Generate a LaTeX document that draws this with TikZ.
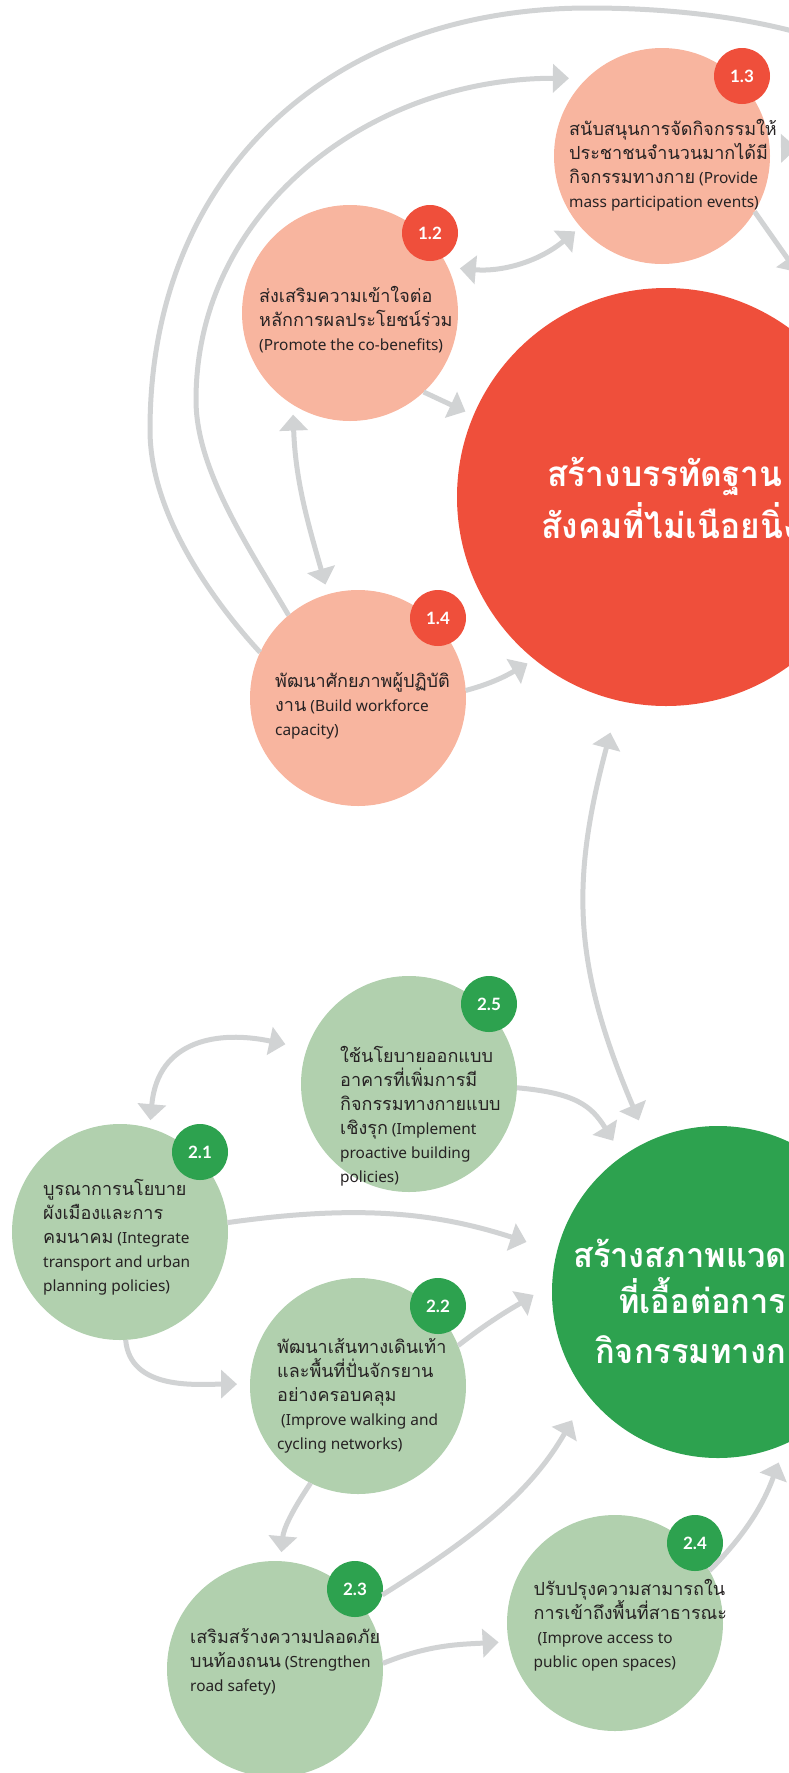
\documentclass[tikz,border=0pt]{standalone}
\usepackage{fontspec}
\setmainfont{Noto Sans}
\newfontfamily\thai[Script=Thai,Scale=1.17]{Loma}
\newfontfamily\thaittl[Script=Thai,FakeStretch=0.96]{Loma}
\newfontfamily\numfont{Lato}
\usetikzlibrary{calc,arrows.meta}

\definecolor{redmain}{HTML}{EF4F3B}
\definecolor{redlite}{HTML}{F8B59F}
\definecolor{grnmain}{HTML}{2DA24F}
\definecolor{grnlite}{HTML}{B1D0AE}
\definecolor{arrgray}{HTML}{D1D3D4}
\definecolor{txtdark}{HTML}{262223}

\tikzset{
	goal/.style={circle, fill=#1, minimum size=216pt, inner sep=0pt, outer sep=0pt},
	big/.style={circle, fill=#1, inner sep=0pt, outer sep=0pt},
	badge/.style={circle, fill=#1, minimum size=56pt, inner sep=0pt, outer sep=0pt, text=white, font=\numfont\bfseries\fontsize{17}{17}\selectfont},
	lbl/.style={anchor=base west, align=left, inner sep=0pt, text=txtdark, font=\fontsize{15.4}{24}\selectfont},
	ttl/.style={anchor=base west, inner sep=0pt, text=white, font=\thaittl\bfseries\fontsize{#1}{#1}\selectfont},
	arrline/.style={draw=arrgray, line width=5pt},
	arr/.style={arrline, ->},
	arrdbl/.style={arrline, <->},
}

\begin{document}
\begin{tikzpicture}[x=1pt, y=-1pt, >={Triangle[length=16pt,width=28pt]}]
	\useasboundingbox (0,0) rectangle (789,1773);
	\clip (0,0) rectangle (789,1773);
	
	%%%%% GOAL 1 %%%%%
	
	\node[big=redmain, minimum size=418pt] (red) at (666,497) {};
	\node[ttl=35] (redt1) at (547,486) {สร้างบรรทัดฐาน};
	\node[ttl=35] (redt2) at (541,538) {สังคมที่ไม่เนือยนิ่ง};
	
	\node[goal=redlite] (c13) at (662,156) {};
	\node[badge=redmain] (b13) at ($(c13)+(80,-80)$) {1.3};
	\node[lbl] (t13) at (569,207) {{\thai สนับสนุนการจัดกิจกรรมให้}\\{\thai ประชาชนจำนวนมากได้มี}\\{\thai กิจกรรมทางกาย} (Provide\\mass participation events)};
	
	\node[goal=redlite] (c12) at (350,313) {};
	\node[badge=redmain] (b12) at ($(c12)+(80,-80)$) {1.2};
	\node[lbl] (t12) at (259,350) {{\thai ส่งเสริมความเข้าใจต่อ}\\{\thai หลักการผลประโยชน์ร่วม}\\(Promote the co-benefits)};
	
	\node[goal=redlite] (c14) at (358,698) {};
	\node[badge=redmain] (b14) at ($(c14)+(80,-80)$) {1.4};
	\node[lbl] (t14) at (275,735) {{\thai พัฒนาศักยภาพผู้ปฏิบัติ}\\{\thai งาน} (Build workforce\\capacity)};
	
	\coordinate (ob) at (850,50);
	\coordinate (g13) at (797,272);
	\coordinate (h13) at (797,148);
	
	\draw[arrline] (c14.155) .. controls (222,611) and (150,520) .. (150,430) .. controls (150,177) and (326,8) .. (589,8) .. controls (700,8) and (790,25) .. (ob);
	\draw[arr, shorten >=18pt] (c14.130) .. controls (249,548) and (196,470) .. (196,400) .. controls (196,210) and (370,78) .. (c13.134);
	\draw[arrdbl, shorten <=12pt, shorten >=7pt] (c12.25) to[out=-5,in=220] (c13.221.5);
	\draw[arr, shorten >=9pt] (c12.-47.6) -- (red.157);
	\draw[arrdbl, shorten <=10pt, shorten >=10pt] (c12.238) to[out=-88,in=106] (c14.106);
	\draw[arr, shorten >=8pt] (c14.4) to[out=15,in=210] (red.231);
	\draw[arr] (c13.-31) -- (g13);
	\draw[arr, shorten <=12pt] (c13.4) -- (h13);
	
	%%%%% GOAL 2 %%%%%
	
	\node[big=grnmain, minimum size=332pt] (green) at (718,1292) {};
	\node[ttl=34] (grnt1) at (573,1267) {สร้างสภาพแวด};
	\node[ttl=34] (grnt2) at (618,1313) {ที่เอื้อต่อการ};
	\node[ttl=34] (grnt3) at (595,1363) {กิจกรรมทางก};
	
	\node[goal=grnlite] (c25) at (409,1084) {};
	\node[badge=grnmain] (b25) at ($(c25)+(80,-80)$) {2.5};
	\node[lbl] (t25) at (340,1182) {{\thai ใช้นโยบายออกแบบ}\\{\thai อาคารที่เพิ่มการมี}\\{\thai กิจกรรมทางกายแบบ}\\{\thai เชิงรุก} (Implement\\proactive building\\policies)};
	
	\node[goal=grnlite] (c21) at (120,1232) {};
	\node[badge=grnmain] (b21) at ($(c21)+(80,-80)$) {2.1};
	\node[lbl] (t21) at (43,1291) {{\thai บูรณาการนโยบาย}\\{\thai ผังเมืองและการ}\\{\thai คมนาคม} (Integrate\\transport and urban\\planning policies)};
	
	\node[goal=grnlite] (c22) at (358,1386) {};
	\node[badge=grnmain] (b22) at ($(c22)+(80,-80)$) {2.2};
	\node[lbl] (t22) at (277,1449) {{\thai พัฒนาเส้นทางเดินเท้า}\\{\thai และพื้นที่ปั่นจักรยาน}\\{\thai อย่างครอบคลุม}\\\ (Improve walking and\\cycling networks)};
	
	\node[goal=grnlite] (c23) at (275,1669) {};
	\node[badge=grnmain] (b23) at ($(c23)+(80,-80)$) {2.3};
	\node[lbl] (t23) at (190,1691) {{\thai เสริมสร้างความปลอดภัย}\\{\thai บนท้องถนน} (Strengthen\\road safety)};
	
	\node[goal=grnlite] (c24) at (615,1623) {};
	\node[badge=grnmain] (b24) at ($(c24)+(80,-80)$) {2.4};
	\node[lbl] (t24) at (533.5,1667) {{\thai ปรับปรุงความสามารถใน}\\{\thai การเข้าถึงพื้นที่สาธารณะ}\\\ (Improve access to\\public open spaces)};
	
	\draw[arrdbl, shorten <=33pt, shorten >=23pt] (red.257) to[out=-105,in=113,looseness=1.1] (green.115);
	\draw[arrdbl, shorten <=8pt, shorten >=22pt] (c21.74) to[out=85,in=168,looseness=1.3] (c25.161.5);
	\draw[arr, shorten >=18pt] (c25.-2) to[out=-5,in=122,looseness=1.2] (green.125.6);
	\draw[arr, shorten >=32pt] (c21.5) to[out=8,in=162] (green.166.5);
	\draw[arr, shorten >=13pt] (c21.-87) to[out=-85,in=180] (c22.179);
	\draw[arr, shorten >=22pt] (c22.22) to[out=38,in=212] (green.177);
	\draw[arr, shorten >=9pt] (c22.244.6) to[out=-124,in=85] (c23.87);
	\draw[arr, shorten >=30pt] (b23.-12.5) to[out=32,in=240] (green.218);
	\draw[arr, shorten >=10pt] (c23.3) to[out=22,in=183] (c24.190);
	\draw[arr, shorten >=20pt] (c24.29) to[out=45,in=250] (green.-66);
\end{tikzpicture}
\end{document}
